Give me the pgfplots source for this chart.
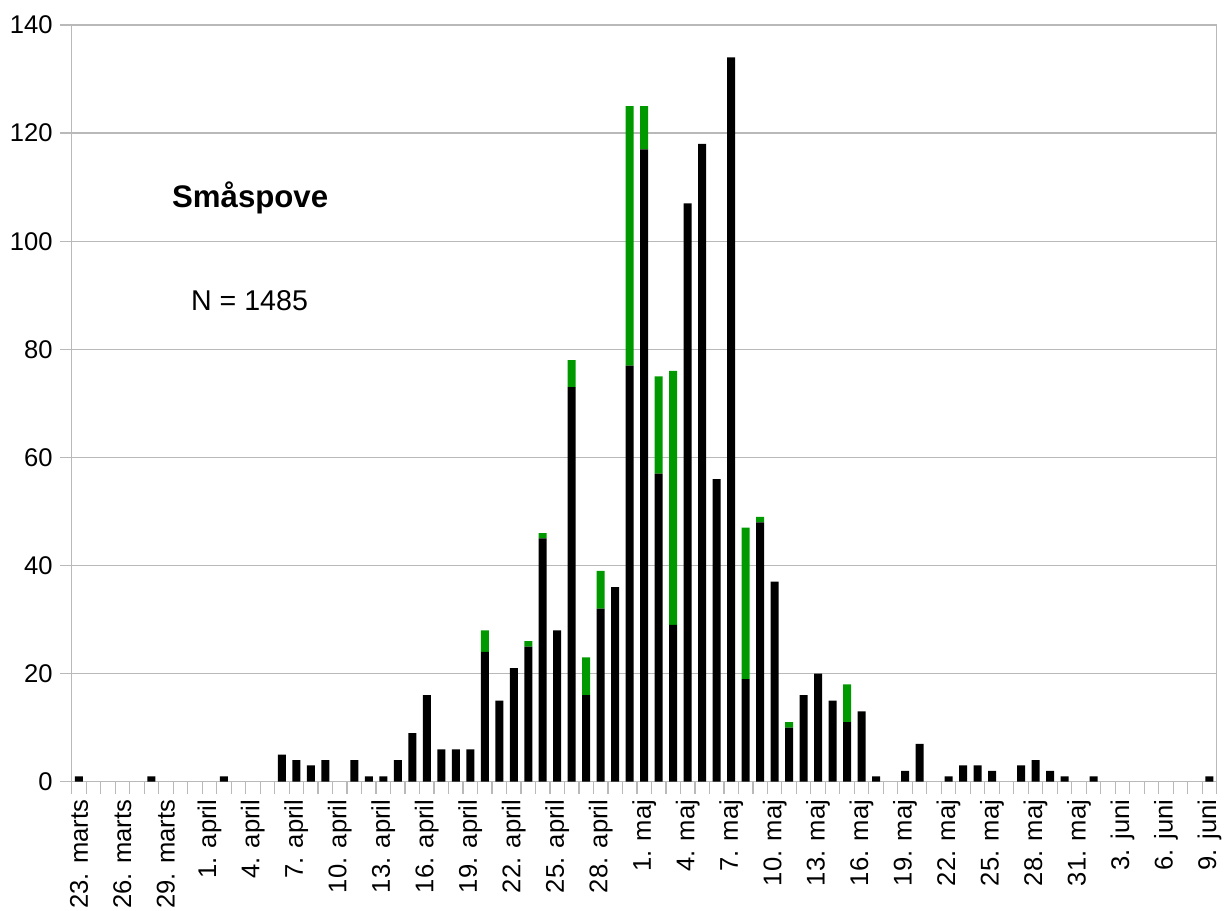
\documentclass[border=0pt]{standalone}
\usepackage{fontspec}
\setmainfont{Liberation Sans}
\usepackage{pgfplots}
\usepackage{pgfplotstable}
\pgfplotsset{compat=1.18}
\definecolor{barg}{RGB}{0,153,0}
\definecolor{gridg}{RGB}{185,185,185}

\pgfplotstableread{
x black green
0 1 0
1 0 0
2 0 0
3 0 0
4 0 0
5 1 0
6 0 0
7 0 0
8 0 0
9 0 0
10 1 0
11 0 0
12 0 0
13 0 0
14 5 0
15 4 0
16 3 0
17 4 0
18 0 0
19 4 0
20 1 0
21 1 0
22 4 0
23 9 0
24 16 0
25 6 0
26 6 0
27 6 0
28 24 4
29 15 0
30 21 0
31 25 1
32 45 1
33 28 0
34 73 5
35 16 7
36 32 7
37 36 0
38 77 48
39 117 8
40 57 18
41 29 47
42 107 0
43 118 0
44 56 0
45 134 0
46 19 28
47 48 1
48 37 0
49 10 1
50 16 0
51 20 0
52 15 0
53 11 7
54 13 0
55 1 0
56 0 0
57 2 0
58 7 0
59 0 0
60 1 0
61 3 0
62 3 0
63 2 0
64 0 0
65 3 0
66 4 0
67 2 0
68 1 0
69 0 0
70 1 0
71 0 0
72 0 0
73 0 0
74 0 0
75 0 0
76 0 0
77 0 0
78 1 0
}\datatable

\begin{document}
\begin{tikzpicture}
\useasboundingbox (-35.85pt,-64.15pt) rectangle (576.15pt,390.85pt);
\begin{axis}[
  at={(0pt,0pt)}, anchor=south west,
  scale only axis,
  width=572.5pt, height=378.35pt,
  ybar stacked,
  bar width=4pt,
  xmin=-0.5, xmax=78.5,
  ymin=0, ymax=140,
  ytick={0,20,...,140},
  xtick={-0.5,0.5,...,78.5},
  xticklabels={},
  xtick pos=bottom,
  ytick pos=left,
  extra x ticks={0,3,...,78},
  extra x tick labels={23. marts,26. marts,29. marts,1. april,4. april,7. april,10. april,13. april,16. april,19. april,22. april,25. april,28. april,1. maj,4. maj,7. maj,10. maj,13. maj,16. maj,19. maj,22. maj,25. maj,28. maj,31. maj,3. juni,6. juni,9. juni},
  extra x tick style={grid=none, major tick length=0pt,
     tick label style={yshift=-5.5pt, rotate=90, anchor=east}},
  tick align=outside,
  major tick length=6pt,
  tick style={draw=gridg, line width=0.6pt},
  ymajorgrids,
  grid style={draw=gridg, line width=0.6pt},
  axis line style={draw=gridg, line width=0.6pt},
  tick label style={font=\fontsize{12.8}{15}\selectfont},
  /pgf/number format/assume math mode=true,
  yticklabel style={xshift=0pt},
  clip=false,
]
\addplot[fill=black, draw=none] table[x=x, y=black] {\datatable};
\addplot[fill=barg, draw=none] table[x=x, y=green] {\datatable};
\node[anchor=base west, inner sep=0pt, font=\bfseries\fontsize{15.6}{18}\selectfont] at (axis cs:6.4,106.3) {Småspove};
\node[anchor=base west, inner sep=0pt, font=\fontsize{14.3}{17}\selectfont] at (axis cs:7.71,87.2) {N = 1485};
\end{axis}
\end{tikzpicture}
\end{document}
